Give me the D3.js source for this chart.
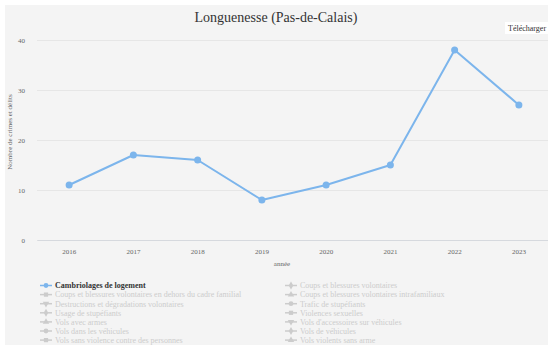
<!DOCTYPE html>
<html>
<head>
<meta charset="utf-8">
<script src="https://cdn.jsdelivr.net/npm/d3@7"></script>
<style>
  html, body { margin: 0; padding: 0; background: #ffffff; }
  svg { display: block; font-family: "Liberation Serif", "DejaVu Serif", serif; }
</style>
</head>
<body>
<svg id="chart" width="548" height="345"></svg>
<script>
// Cambriolages de logement, Longuenesse
const years = ["2016", "2017", "2018", "2019", "2020", "2021", "2022", "2023"];
const values = [11, 17, 16, 8, 11, 15, 38, 27];
const yTicks = [0, 10, 20, 30, 40];

// Legend entries (row-major, two columns); only the first series is shown
const seriesNames = [
  "Cambriolages de logement",
  "Coups et blessures volontaires",
  "Coups et blessures volontaires en dehors du cadre familial",
  "Coups et blessures volontaires intrafamiliaux",
  "Destructions et dégradations volontaires",
  "Trafic de stupéfiants",
  "Usage de stupéfiants",
  "Violences sexuelles",
  "Vols avec armes",
  "Vols d'accessoires sur véhicules",
  "Vols dans les véhicules",
  "Vols de véhicules",
  "Vols sans violence contre des personnes",
  "Vols violents sans arme"
];
const symbolCycle = [d3.symbolCircle, d3.symbolDiamond, d3.symbolSquare, d3.symbolTriangle, d3.symbolTriangle];

const svg = d3.select("#chart");
const W = 548, H = 345;
const plot = { left: 37, right: 551, top: 40, bottom: 240 };

// panel background
svg.append("rect").attr("x", 5).attr("y", 5).attr("width", W - 5).attr("height", H - 5).attr("fill", "#f4f4f4");

// title
svg.append("text").attr("x", 276).attr("y", 22).attr("text-anchor", "middle")
  .attr("font-size", 14).attr("fill", "#333").text("Longuenesse (Pas-de-Calais)");

// export button
svg.append("rect").attr("x", 505).attr("y", 22).attr("width", 48).attr("height", 12).attr("fill", "#ffffff");
svg.append("text").attr("x", 508).attr("y", 31).attr("font-size", 8).attr("fill", "#333").text("Télécharger");

const x = d3.scaleBand().domain(years).range([plot.left, plot.right]);
const cx = d => x(d) + x.bandwidth() / 2;
const y = d3.scaleLinear().domain([0, 40]).range([plot.bottom, plot.top]);

// grid lines and y labels
const yAxis = d3.axisLeft(y).tickValues(yTicks).tickSize(-(plot.right - plot.left)).tickPadding(12);
const gy = svg.append("g").attr("transform", `translate(${plot.left},0)`).call(yAxis);
gy.select(".domain").remove();
gy.selectAll(".tick line").attr("stroke", "#e6e6e6");
gy.selectAll(".tick text").attr("font-size", 7).attr("fill", "#666").attr("font-family", "Liberation Serif, serif");

// x axis
const xAxis = d3.axisBottom(x).tickSize(0).tickPadding(9);
const gx = svg.append("g").attr("transform", `translate(0,${plot.bottom})`).call(xAxis);
gx.select(".domain").attr("stroke", "#d6d9de");
gx.selectAll(".tick text").attr("font-size", 7).attr("fill", "#666").attr("font-family", "Liberation Serif, serif");

// axis titles
svg.append("text").attr("x", 282).attr("y", 266).attr("text-anchor", "middle")
  .attr("font-size", 7).attr("fill", "#666").text("année");
svg.append("text").attr("transform", "translate(12,132) rotate(-90)").attr("text-anchor", "middle")
  .attr("font-size", 7).attr("fill", "#666").text("Nombre de crimes et délits");

// series line
const line = d3.line().x((d, i) => cx(years[i])).y(d => y(d));
svg.append("path").datum(values).attr("d", line)
  .attr("fill", "none").attr("stroke", "#7cb5ec").attr("stroke-width", 2).attr("stroke-linejoin", "round");
svg.selectAll("circle.pt").data(values).enter().append("circle").attr("class", "pt")
  .attr("cx", (d, i) => cx(years[i])).attr("cy", d => y(d)).attr("r", 3.5).attr("fill", "#7cb5ec");

// legend
const legend = svg.append("g");
seriesNames.forEach((name, i) => {
  const col = i % 2, row = Math.floor(i / 2);
  const lx = col === 0 ? 46 : 291;
  const ly = 285.5 + row * 9.1;
  const active = i === 0;
  const color = active ? "#7cb5ec" : "#cccccc";
  legend.append("line").attr("x1", lx - 6).attr("x2", lx + 6).attr("y1", ly).attr("y2", ly)
    .attr("stroke", color).attr("stroke-width", 1.5);
  legend.append("path")
    .attr("d", d3.symbol().type(symbolCycle[i % symbolCycle.length]).size(18)())
    .attr("fill", color)
    .attr("transform", `translate(${lx},${ly})` + ((i % 5) === 4 ? " rotate(180)" : ""));
  legend.append("text").attr("x", lx + 9).attr("y", ly + 2.8)
    .attr("font-size", 8).attr("font-weight", active ? "bold" : "normal")
    .attr("fill", active ? "#333" : "#cccccc").text(name);
});
</script>
</body>
</html>
